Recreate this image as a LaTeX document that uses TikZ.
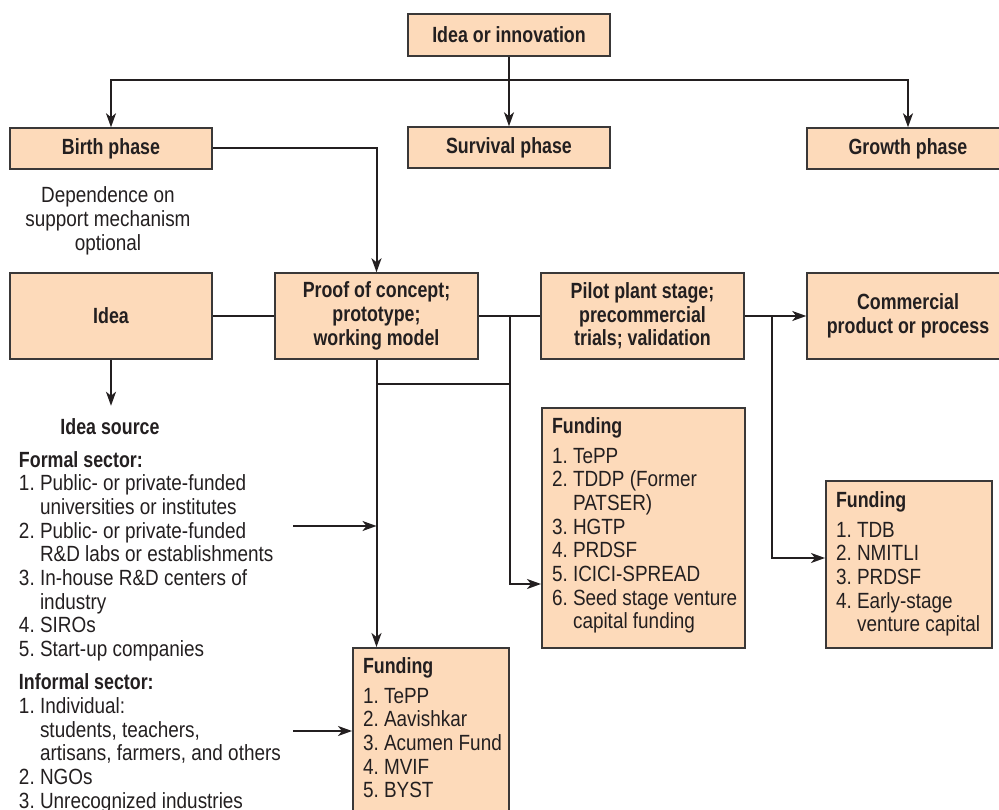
\documentclass[tikz,border=0pt]{standalone}
\usepackage{fontspec}
\setmainfont[FakeStretch=0.86,BoldFeatures={FakeStretch=0.81}]{Liberation Sans}
\usepackage{tikz}
\usetikzlibrary{arrows.meta}
\usetikzlibrary{calc}
\definecolor{peach}{RGB}{253,218,186}
\definecolor{boxline}{RGB}{58,56,56}
\definecolor{ink}{RGB}{35,31,32}
\newcommand{\chartfont}{\fontsize{22}{23.7}\selectfont}

\begin{document}
\begin{tikzpicture}[x=1pt,y=-1pt,ink,line width=2pt,
    phase/.style={draw=boxline,fill=peach,line width=1.5pt,minimum width=202pt,minimum height=41pt,inner sep=0pt,font=\chartfont\bfseries},
    stage/.style={phase,minimum height=86pt,align=center},
    fundbox/.style={draw=boxline,fill=peach,line width=1.5pt,anchor=north west,inner sep=0pt},
    list/.style={anchor=base west,inner sep=0pt,font=\chartfont},
    arr/.style={-{Stealth[length=14pt,width=10pt,inset=4pt]}}]
    \useasboundingbox (0,0) rectangle (999,810);
    \clip (0,0) rectangle (999,810);
    \node[phase,minimum height=42pt] (inno) at (509,35) {Idea or innovation};
    \node[phase] (birth) at (111,148.5) {Birth phase};
    \node[phase] (surv) at (509,147.5) {Survival phase};
    \node[phase] (grow) at (908,148.5) {Growth phase};
    \node[align=center,font=\chartfont] (dep) at (108,221) {Dependence on\\support mechanism\\optional};
    \node[stage] (idea) at (111,316) {Idea};
    \node[stage,minimum width=203pt] (proof) at (376.5,316) {Proof of concept;\\prototype;\\working model};
    \node[stage,minimum width=203pt] (pilot) at (642.5,316) {Pilot plant stage;\\precommercial\\trials; validation};
    \node[stage] (comm) at (908,316) {Commercial\\product or process};
    \node[fundbox,minimum width=203pt,minimum height=240pt] (fund2) at (541,407) {};
    \node[fundbox,minimum width=166pt,minimum height=167pt] (fund3) at (825,480) {};
    \node[fundbox,minimum width=156pt,minimum height=180pt] (fund1) at (352,647) {};
    \node[anchor=base,inner sep=0pt,font=\chartfont\bfseries] (isrc) at (110,434) {Idea source};
    \node[list] (srclist) at (18,467) {\begin{tabular}[t]{@{}l@{\ }l@{}}
	\multicolumn{2}{@{}l@{}}{\bfseries Formal sector:}\\
	1. & Public- or private-funded\\
	   & universities or institutes\\
	2. & Public- or private-funded\\
	   & R\&D labs or establishments\\
	3. & In-house R\&D centers of\\
	   & industry\\
	4. & SIROs\\
	5. & Start-up companies\\[9.5pt]
	\multicolumn{2}{@{}l@{}}{\bfseries Informal sector:}\\
	1. & Individual:\\
	   & students, teachers,\\
	   & artisans, farmers, and others\\
	2. & NGOs\\
	3. & Unrecognized industries
	\end{tabular}};
    \node[list] (fund2txt) at (551,433) {\begin{tabular}[t]{@{}l@{\ }l@{}}
	\multicolumn{2}{@{}l@{}}{\bfseries Funding}\\[6.3pt]
	1. & TePP\\
	2. & TDDP (Former\\
	   & PATSER)\\
	3. & HGTP\\
	4. & PRDSF\\
	5. & ICICI-SPREAD\\
	6. & Seed stage venture\\
	   & capital funding
	\end{tabular}};
    \node[list] (fund3txt) at (835,507) {\begin{tabular}[t]{@{}l@{\ }l@{}}
	\multicolumn{2}{@{}l@{}}{\bfseries Funding}\\[6.3pt]
	1. & TDB\\
	2. & NMITLI\\
	3. & PRDSF\\
	4. & Early-stage\\
	   & venture capital
	\end{tabular}};
    \node[list] (fund1txt) at (362,673) {\begin{tabular}[t]{@{}l@{\ }l@{}}
	\multicolumn{2}{@{}l@{}}{\bfseries Funding}\\[6.3pt]
	1. & TePP\\
	2. & Aavishkar\\
	3. & Acumen Fund\\
	4. & MVIF\\
	5. & BYST
	\end{tabular}};
    \coordinate (split) at (509,80);
    \coordinate (tapA) at (510,316);
    \coordinate (tapB) at (376.5,384);
    \coordinate (tapC) at (772,316);
    \coordinate (srcA) at (293,526);
    \coordinate (srcB) at (293,731);
    \draw[arr] (inno) -- (surv);
    \draw[arr] (split) -| (birth);
    \draw[arr] (split) -| (grow);
    \draw[arr] (birth) -| (proof);
    \draw (idea) -- (proof);
    \draw (proof) -- (pilot);
    \draw[arr] (idea.south) -- ++(0,46);
    \draw[arr] (proof) -- (proof |- fund1.north);
    \draw (tapB) -- (tapB -| tapA);
    \draw[arr] (tapA) |- ($(fund2.north west)+(0,177)$);
    \draw[arr] (pilot) -- (comm);
    \draw[arr] (tapC) |- ($(fund3.north west)+(0,78)$);
    \draw[arr] (srcA) -- (srcA -| proof);
    \draw[arr] (srcB) -- (srcB -| fund1.west);
\end{tikzpicture}
\end{document}
